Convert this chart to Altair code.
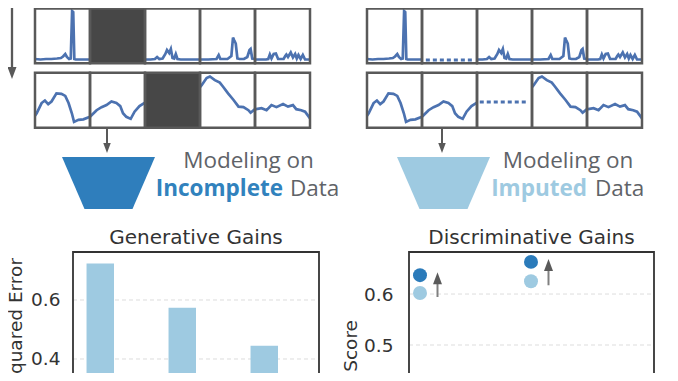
import altair as alt
import pandas as pd

# ---------------- data ----------------
# top row of the sketch: sparse spiky series (panel index 1 is the missing block)
top_t_0 = [0, 0.1, 0.2, 0.3, 0.4, 0.47, 0.51, 0.55, 0.58, 0.62, 0.65, 0.675, 0.695, 0.715, 0.74, 0.8, 0.9, 1.0]
top_v_0 = [0.04, 0.03, 0.04, 0.04, 0.05, 0.06, 0.09, 0.14, 0.08, 0.04, 0.05, 1.0, 0.98, 0.04, 0.03, 0.03, 0.03, 0.03]
top_t_2 = [0, 0.1, 0.18, 0.22, 0.26, 0.32, 0.37, 0.4, 0.44, 0.47, 0.5, 0.53, 0.56, 0.59, 0.65, 0.8, 1.0]
top_v_2 = [0.03, 0.03, 0.04, 0.08, 0.04, 0.05, 0.14, 0.22, 0.16, 0.24, 0.06, 0.05, 0.14, 0.04, 0.03, 0.03, 0.03]
top_t_3 = [0, 0.15, 0.3, 0.34, 0.37, 0.4, 0.5, 0.57, 0.6, 0.62, 0.65, 0.68, 0.72, 0.8, 0.86, 0.9, 0.92, 0.95, 1.0]
top_v_3 = [0.03, 0.03, 0.04, 0.12, 0.04, 0.04, 0.04, 0.1, 0.47, 0.42, 0.35, 0.05, 0.04, 0.04, 0.08, 0.22, 0.24, 0.05, 0.04]
top_t_4 = [0, 0.2, 0.24, 0.27, 0.3, 0.34, 0.38, 0.42, 0.52, 0.55, 0.57, 0.6, 0.65, 0.69, 0.73, 0.76, 0.79, 0.83, 0.87, 0.91, 1.0]
top_v_4 = [0.03, 0.03, 0.04, 0.13, 0.05, 0.14, 0.15, 0.04, 0.04, 0.1, 0.13, 0.08, 0.17, 0.07, 0.14, 0.05, 0.12, 0.04, 0.12, 0.03, 0.03]

# bottom row of the sketch: smooth series (panel index 2 is the missing block)
bot_t_0 = [0.0, 0.03, 0.12, 0.18, 0.24, 0.30, 0.39, 0.48, 0.55, 0.61, 0.67, 0.71, 0.79, 0.88, 1.0]
bot_v_0 = [0.20, 0.25, 0.45, 0.50, 0.43, 0.48, 0.64, 0.63, 0.59, 0.45, 0.25, 0.08, 0.12, 0.13, 0.18]
bot_t_1 = [0.0, 0.12, 0.21, 0.30, 0.39, 0.48, 0.55, 0.60, 0.66, 0.74, 0.81, 0.90, 1.0]
bot_v_1 = [0.18, 0.31, 0.37, 0.41, 0.48, 0.45, 0.39, 0.25, 0.18, 0.14, 0.28, 0.39, 0.46]
bot_t_3 = [0.0, 0.03, 0.12, 0.18, 0.27, 0.36, 0.42, 0.51, 0.61, 0.70, 0.79, 0.88, 0.92, 1.0]
bot_v_3 = [0.76, 0.80, 0.94, 0.97, 0.90, 0.85, 0.77, 0.64, 0.51, 0.38, 0.37, 0.31, 0.26, 0.33]
bot_t_4 = [0.0, 0.02, 0.12, 0.21, 0.30, 0.39, 0.51, 0.60, 0.69, 0.75, 0.84, 0.91, 1.0]
bot_v_4 = [0.33, 0.33, 0.35, 0.31, 0.41, 0.37, 0.43, 0.38, 0.41, 0.33, 0.31, 0.28, 0.15]

top_missing = 1
bot_missing = 2
top_imputed_t = [0.07, 0.96]
top_imputed_v = [0.02, 0.02]
bot_imputed_t = [0.05, 0.93]
bot_imputed_v = [0.47, 0.47]

# Generative Gains (bar chart)
gen_groups = [1, 2, 3]
gen_mse = [0.724, 0.574, 0.445]
gen_ticks = [0.4, 0.6]

# Discriminative Gains (dot chart)
disc_task = [0, 1]
disc_before = [0.602, 0.625]
disc_after = [0.637, 0.663]
disc_ticks = [0.5, 0.6]

# ---------------- styles ----------------
LINE = "#4c72b0"
FRAME = "#595959"
DARK_CELL = "#474747"
DEEP_BLUE = "#2f7ebc"
LIGHT_BLUE = "#9ecae1"
TXT_GRAY = "#5f6368"
AX = "#333333"


def series_df(ts, vs, panels):
    rows = []
    for p, t_list, v_list in zip(panels, ts, vs):
        for t, v in zip(t_list, v_list):
            rows.append({"p": p, "x": p + t, "v": v})
    return pd.DataFrame(rows)


top_df = series_df([top_t_0, top_t_2, top_t_3, top_t_4], [top_v_0, top_v_2, top_v_3, top_v_4], [0, 2, 3, 4])
bot_df = series_df([bot_t_0, bot_t_1, bot_t_3, bot_t_4], [bot_v_0, bot_v_1, bot_v_3, bot_v_4], [0, 1, 3, 4])
top_imp = series_df([top_imputed_t], [top_imputed_v], [top_missing])
bot_imp = series_df([bot_imputed_t], [bot_imputed_v], [bot_missing])

panels = pd.DataFrame({"p": list(range(5))})
panels["p1"] = panels["p"] + 1

dummy = pd.DataFrame({"d": [0]})

layers = []


def row(df_line, missing, xr, frame, valr, left_side, imp_df):
    xs = alt.Scale(domain=[0, 5], range=list(xr), nice=False, zero=False)
    ys = alt.Scale(domain=[0, 1], range=list(valr), nice=False, zero=False)
    out = []
    if left_side:
        gap = pd.DataFrame({"p": [missing], "p1": [missing + 1]})
        out.append(alt.Chart(gap).mark_rect(color=DARK_CELL).encode(
            x=alt.X("p:Q", scale=xs, axis=None), x2="p1:Q",
            y=alt.value(frame[0]), y2=alt.value(frame[1])))
    out.append(alt.Chart(df_line).mark_line(color=LINE, strokeWidth=2.7).encode(
        x=alt.X("x:Q", scale=xs, axis=None),
        y=alt.Y("v:Q", scale=ys, axis=None),
        detail="p:N"))
    if not left_side:
        out.append(alt.Chart(imp_df).mark_line(color=LINE, strokeWidth=3, strokeDash=[4, 3]).encode(
            x=alt.X("x:Q", scale=xs, axis=None),
            y=alt.Y("v:Q", scale=ys, axis=None)))
    out.append(alt.Chart(panels).mark_rect(filled=False, color=FRAME, strokeWidth=2.5).encode(
        x=alt.X("p:Q", scale=xs, axis=None), x2="p1:Q",
        y=alt.value(frame[0]), y2=alt.value(frame[1])))
    return out


TOP_FRAME = (0.5, 55.3)
TOP_VAL = (53, 3)
BOT_FRAME = (64.7, 119.7)
BOT_VAL = (118, 67)
LEFT_X = (27, 302)
RIGHT_X = (359, 634)

layers += row(top_df, top_missing, LEFT_X, TOP_FRAME, TOP_VAL, True, None)
layers += row(bot_df, bot_missing, LEFT_X, BOT_FRAME, BOT_VAL, True, None)
layers += row(top_df, top_missing, RIGHT_X, TOP_FRAME, TOP_VAL, False, top_imp)
layers += row(bot_df, bot_missing, RIGHT_X, BOT_FRAME, BOT_VAL, False, bot_imp)

# ---------------- arrows and funnels ----------------
DOWN_HEAD = "M -0.75 -1 L 0.75 -1 L 0 1 Z"
UP_HEAD = "M 0 -1 L 0.75 1 L -0.75 1 Z"
TRAP = "M -1 -0.559 L 1 -0.559 L 0.516 0.559 L -0.516 0.559 Z"

layers.append(alt.Chart(dummy).mark_rule(color=FRAME, strokeWidth=2.3).encode(
    x=alt.value(4), y=alt.value(0), y2=alt.value(62)))
layers.append(alt.Chart(dummy).mark_point(shape=DOWN_HEAD, size=144, filled=True, opacity=1, color=FRAME).encode(
    x=alt.value(4), y=alt.value(65)))

for ax_x, fill in [(99, DEEP_BLUE), (434, LIGHT_BLUE)]:
    layers.append(alt.Chart(dummy).mark_rule(color=FRAME, strokeWidth=2).encode(
        x=alt.value(ax_x), y=alt.value(120), y2=alt.value(137)))
    layers.append(alt.Chart(dummy).mark_point(shape=DOWN_HEAD, size=100, filled=True, opacity=1, color=FRAME).encode(
        x=alt.value(ax_x), y=alt.value(140)))
    layers.append(alt.Chart(dummy).mark_point(shape=TRAP, size=8649, filled=True, opacity=1, color=fill).encode(
        x=alt.value(ax_x + 1.5), y=alt.value(175)))


def txt(s, x, y, size, color, font="Open Sans", weight="normal", align="center", baseline="alphabetic", angle=0):
    return alt.Chart(dummy).mark_text(text=s, font=font, fontSize=size, fontWeight=weight, color=color,
                                      align=align, baseline=baseline, angle=angle).encode(
        x=alt.value(x), y=alt.value(y))


layers.append(txt("Modeling on", 240.5, 159.7, 22.5, TXT_GRAY))
layers.append(txt("Incomplete", 275, 187.5, 22.5, "#3182bd", weight="bold", align="right"))
layers.append(txt("Data", 282, 187.5, 22.5, TXT_GRAY, align="left"))
layers.append(txt("Modeling on", 560, 159.7, 22.5, TXT_GRAY))
layers.append(txt("Imputed", 579, 187.5, 22.5, LIGHT_BLUE, weight="bold", align="right"))
layers.append(txt("Data", 587, 187.5, 22.5, TXT_GRAY, align="left"))

# ---------------- Generative Gains ----------------
gen_df = pd.DataFrame({"g": gen_groups, "mse": gen_mse, "kind": ["imputed"] * 3})
gy = alt.Scale(domain=[0.3, 0.7627], range=[380.5, 244], nice=False, zero=False)
gx = alt.Scale(domain=gen_groups, range=[65, 311], paddingInner=0.33, paddingOuter=0.165)
grid_gen = pd.DataFrame({"v": gen_ticks})

layers.append(alt.Chart(grid_gen).mark_rule(color="#dddddd", strokeWidth=1, strokeDash=[4, 3]).encode(
    y=alt.Y("v:Q", scale=gy, axis=None), x=alt.value(65), x2=alt.value(311)))
layers.append(alt.Chart(gen_df).mark_bar(color=LIGHT_BLUE).encode(
    x=alt.X("g:O", scale=gx, axis=None),
    xOffset=alt.XOffset("kind:N", scale=alt.Scale(domain=["imputed", "incomplete"], paddingInner=0, paddingOuter=0)),
    y=alt.Y("mse:Q", scale=gy, axis=alt.Axis(orient="left", offset=-65, values=gen_ticks, format=".1f",
                                              domain=False, ticks=False, grid=False, labelPadding=13,
                                              labelFontSize=18.5, labelFont="DejaVu Sans", labelColor=AX,
                                              title=None)),
    y2=alt.datum(0.3)))
layers.append(alt.Chart(dummy).mark_rect(filled=False, color=AX, strokeWidth=1.8).encode(
    x=alt.value(65), x2=alt.value(311), y=alt.value(244), y2=alt.value(420)))
layers.append(txt("Generative Gains", 188, 236, 20, AX, font="DejaVu Sans"))
layers.append(txt("Mean Squared Error", 14, 250, 18.5, AX, font="DejaVu Sans", align="right", angle=270))

# ---------------- Discriminative Gains ----------------
disc_wide = pd.DataFrame({"task": disc_task, "before": disc_before, "after": disc_after})
disc_long = pd.DataFrame({
    "task": disc_task + disc_task,
    "score": disc_before + disc_after,
    "series": ["before"] * 2 + ["after"] * 2,
})
dys = alt.Scale(domain=[0.4, 0.6824], range=[388, 244], nice=False, zero=False)
dxs = alt.Scale(domain=[0, 1], range=[412, 523], nice=False, zero=False)
grid_disc = pd.DataFrame({"v": disc_ticks})

layers.append(alt.Chart(grid_disc).mark_rule(color="#dddddd", strokeWidth=1, strokeDash=[4, 3]).encode(
    y=alt.Y("v:Q", scale=dys, axis=None), x=alt.value(401), x2=alt.value(646)))
layers.append(alt.Chart(disc_wide).mark_rule(color="#808080", strokeWidth=2, xOffset=17.5, yOffset=4, y2Offset=3).encode(
    x=alt.X("task:Q", scale=dxs, axis=None),
    y=alt.Y("before:Q", scale=dys, axis=None),
    y2="after:Q"))
layers.append(alt.Chart(disc_wide).mark_point(shape=UP_HEAD, size=144, filled=True, opacity=1, color="#5a5a5a",
                                              xOffset=17.5, yOffset=3).encode(
    x=alt.X("task:Q", scale=dxs, axis=None),
    y=alt.Y("after:Q", scale=dys, axis=None)))
layers.append(alt.Chart(disc_long).mark_point(filled=True, opacity=1, size=195).encode(
    x=alt.X("task:Q", scale=dxs, axis=None),
    y=alt.Y("score:Q", scale=dys, axis=alt.Axis(orient="left", offset=-401, values=disc_ticks, format=".1f",
                                               domain=False, ticks=False, grid=False, labelPadding=16,
                                               labelFontSize=18.5, labelFont="DejaVu Sans", labelColor=AX,
                                               title=None)),
    color=alt.Color("series:N", scale=alt.Scale(domain=["before", "after"], range=[LIGHT_BLUE, "#2b7bba"]),
                    legend=None)))
layers.append(alt.Chart(dummy).mark_rect(filled=False, color=AX, strokeWidth=1.8).encode(
    x=alt.value(401), x2=alt.value(646), y=alt.value(244), y2=alt.value(420)))
layers.append(txt("Discriminative Gains", 523.5, 236, 20, AX, font="DejaVu Sans"))
layers.append(txt("Score", 349, 312, 18.5, AX, font="DejaVu Sans", align="right", angle=270))

chart = alt.layer(*layers).resolve_scale(
    x="independent", y="independent", color="independent"
).properties(
    width=662, height=365, padding=0, autosize=alt.AutoSizeParams(type="none")
).configure_view(strokeWidth=0)

chart.save("out.html", embed_options={"renderer": "svg", "actions": False})
